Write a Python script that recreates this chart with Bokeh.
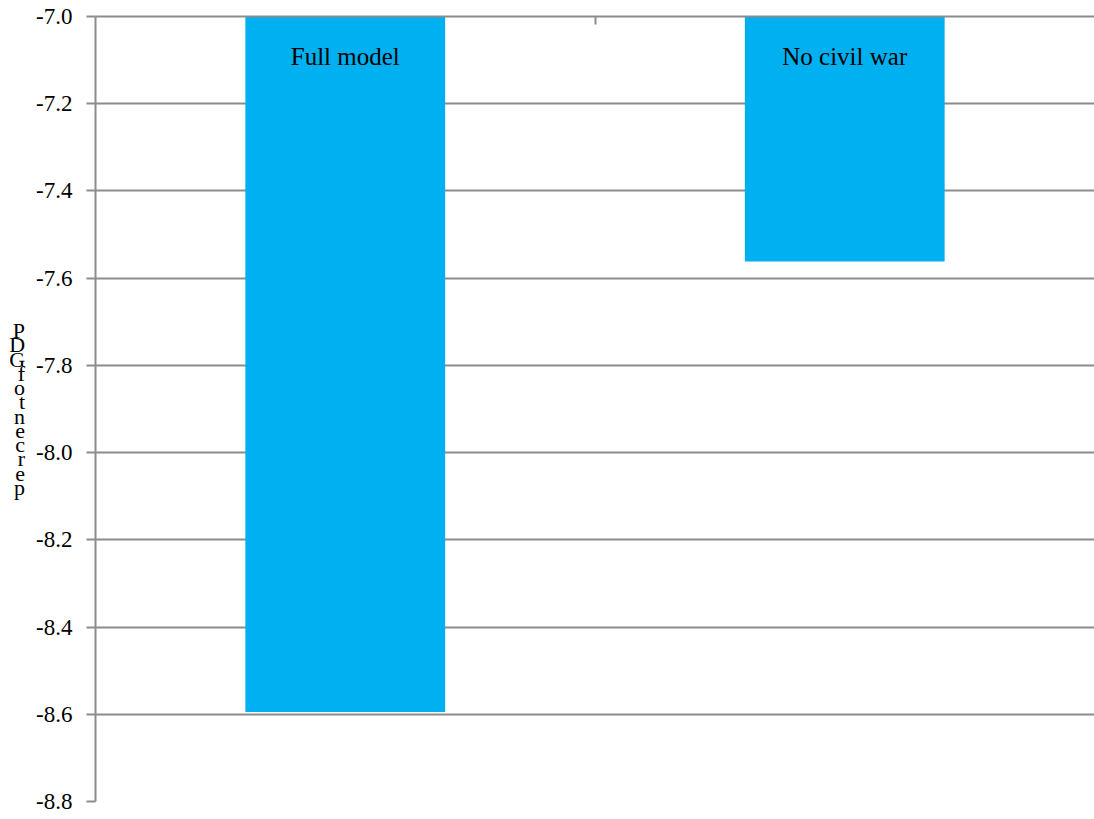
from bokeh.plotting import figure
from bokeh.models import Range1d, FixedTicker, ColumnDataSource, NumeralTickFormatter
from bokeh.core.properties import value
from bokeh.embed import file_html
from bokeh.resources import INLINE

categories = ["Full model", "No civil war"]
values = [-8.595, -7.562]
baseline = -7.0
y_ticks = [-7.0, -7.2, -7.4, -7.6, -7.8, -8.0, -8.2, -8.4, -8.6, -8.8]
y_label = "percent of GDP"

xpos = [i + 0.5 for i in range(len(categories))]
src = ColumnDataSource(dict(x=xpos, top=[baseline] * len(values), bottom=values,
                            label=categories))

GRAY = "#8c8c8c"
FONT = "Liberation Serif"

p = figure(width=1094, height=819, output_backend="svg", toolbar_location=None,
           x_range=Range1d(0, len(categories)), y_range=Range1d(-8.8, -7.0),
           x_axis_location="above", min_border_left=95, min_border_right=0,
           min_border_top=16, min_border_bottom=18)
p.outline_line_color = None
p.background_fill_color = "white"

p.vbar(x="x", width=0.4, top="top", bottom="bottom", source=src,
       fill_color="#00B0F0", line_color=None)
p.text(x="x", y="top", text="label", source=src, text_align="center",
       text_baseline="alphabetic", y_offset=40, text_font=value(FONT),
       text_font_size="25px", text_color="black")

# stacked, reversed y-axis label letters (as in the reference)
letters = [c for c in y_label[::-1] if c != " "]
letters = [c.upper() if i < 3 else c for i, c in enumerate(letters)]

# y axis
p.yaxis.ticker = FixedTicker(ticks=y_ticks)
p.yaxis.formatter = NumeralTickFormatter(format="0.0")
p.yaxis.axis_line_color = GRAY
p.yaxis.axis_line_width = 2
p.yaxis.major_tick_line_color = GRAY
p.yaxis.major_tick_line_width = 2
p.yaxis.major_tick_out = 9
p.yaxis.major_tick_in = 0
p.yaxis.minor_tick_line_color = None
p.yaxis.major_label_text_font = FONT
p.yaxis.major_label_text_font_style = "normal"
p.yaxis.major_label_text_font_size = "23px"
p.yaxis.major_label_text_color = "black"
p.yaxis.major_label_standoff = 14
p.yaxis.axis_label = "\n".join(letters)
p.yaxis.axis_label_orientation = "horizontal"
p.yaxis.axis_label_text_font = FONT
p.yaxis.axis_label_text_font_style = "normal"
p.yaxis.axis_label_text_font_size = "22px"
p.yaxis.axis_label_text_line_height = 0.57
p.yaxis.axis_label_text_align = "left"
p.yaxis.axis_label_text_color = "black"
p.yaxis.axis_label_standoff = 8

# top x axis
xa = p.xaxis[0]
xa.ticker = FixedTicker(ticks=[1])
xa.major_label_overrides = {1: ""}
xa.major_label_text_font_size = "1px"
xa.major_label_standoff = 0
xa.axis_line_color = GRAY
xa.axis_line_width = 2
xa.major_tick_line_color = GRAY
xa.major_tick_line_width = 2
xa.major_tick_in = 8
xa.major_tick_out = 0
xa.minor_tick_line_color = None

p.xgrid.visible = False
p.ygrid.ticker = FixedTicker(ticks=y_ticks)
p.ygrid.grid_line_color = GRAY
p.ygrid.grid_line_width = 2

open("out.html", "w").write(file_html(p, INLINE))
